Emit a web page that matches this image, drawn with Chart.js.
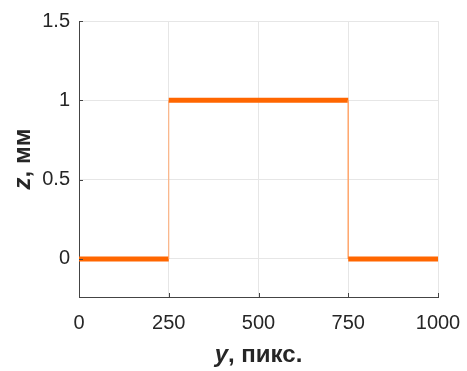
<!DOCTYPE html>
<html>
<head>
<meta charset="utf-8">
<script src="https://cdn.jsdelivr.net/npm/chart.js@4"></script>
<style>
  html, body { margin: 0; padding: 0; background: #fff; }
  #wrap { width: 467px; height: 371px; }
</style>
</head>
<body>
<div id="wrap"><canvas id="myChart" width="467" height="371"></canvas></div>
<script>
const yPositions = [0, 250, 250, 750, 750, 1000]
const zValues = [0, 0, 1, 1, 0, 0]
const xTicks = [0, 250, 500, 750, 1000]
const yTicks = [0, 0.5, 1, 1.5]

const ctx = document.getElementById('myChart')
const font = 'Liberation Sans, Arial, sans-serif'

// axis titles with the italic variable name, plus MATLAB style inward ticks
const titlesPlugin = {
  id: 'titles',
  afterDraw(chart) {
    const c = chart.ctx
    const area = chart.chartArea
    const xs = chart.scales.x
    const ys = chart.scales.y
    c.save()
    c.strokeStyle = '#444'
    c.lineWidth = 1
    xTicks.forEach(t => {
      const px = Math.round(xs.getPixelForValue(t)) + 0.5
      c.beginPath(); c.moveTo(px, area.bottom); c.lineTo(px, area.bottom - 4); c.stroke()
    })
    yTicks.forEach(t => {
      const py = Math.round(ys.getPixelForValue(t)) + 0.5
      c.beginPath(); c.moveTo(area.left, py); c.lineTo(area.left + 4, py); c.stroke()
    })

    c.fillStyle = '#262626'
    c.textBaseline = 'middle'
    const drawTitle = (varName, rest, cx, cy, rot) => {
      c.save()
      c.translate(cx, cy)
      c.rotate(rot)
      c.font = 'italic bold 24px ' + font
      const w1 = c.measureText(varName).width
      c.font = 'bold 24px ' + font
      const w2 = c.measureText(rest).width
      let x = -(w1 + w2) / 2
      c.textAlign = 'left'
      c.font = 'italic bold 24px ' + font
      c.fillText(varName, x, 0)
      c.font = 'bold 24px ' + font
      c.fillText(rest, x + w1, 0)
      c.restore()
    }
    drawTitle('y', ', пикс.', (area.left + area.right) / 2, 355, 0)
    drawTitle('z', ', мм', 23, (area.top + area.bottom) / 2, -Math.PI / 2)
    c.restore()
  }
}

new Chart(ctx, {
  type: 'line',
  data: {
    datasets: [{
      data: yPositions.map((y, i) => ({ x: y, y: zValues[i] })),
      borderColor: '#ff6600',
      borderWidth: 5,
      pointRadius: 0,
      tension: 0,
      segment: {
        borderWidth: s => s.p0.parsed.y === s.p1.parsed.y ? 5 : 1,
        borderColor: s => s.p0.parsed.y === s.p1.parsed.y ? '#ff6600' : '#ffa870'
      }
    }]
  },
  options: {
    responsive: false,
    animation: false,
    layout: { padding: { top: 19, right: 29, left: 0, bottom: 0 } },
    plugins: { legend: { display: false }, tooltip: { enabled: false } },
    scales: {
      x: {
        type: 'linear',
        min: 0,
        max: 1000,
        afterBuildTicks: axis => { axis.ticks = xTicks.map(v => ({ value: v })) },
        afterFit: axis => { axis.height = 74; axis.paddingRight = 0 },
        grid: { color: '#e6e6e6', drawTicks: false },
        border: { color: '#444', width: 1 },
        ticks: { padding: 14, color: '#262626', font: { family: font, size: 20 }, maxRotation: 0, callback: v => String(v) }
      },
      y: {
        type: 'linear',
        min: -0.24,
        max: 1.5,
        afterBuildTicks: axis => { axis.ticks = yTicks.map(v => ({ value: v })) },
        afterFit: axis => { axis.width = 79 },
        grid: { color: '#e6e6e6', drawTicks: false },
        border: { color: '#444', width: 1 },
        ticks: { padding: 9, color: '#262626', font: { family: font, size: 20 }, callback: v => String(v) }
      }
    }
  },
  plugins: [titlesPlugin]
})
</script>
</body>
</html>
